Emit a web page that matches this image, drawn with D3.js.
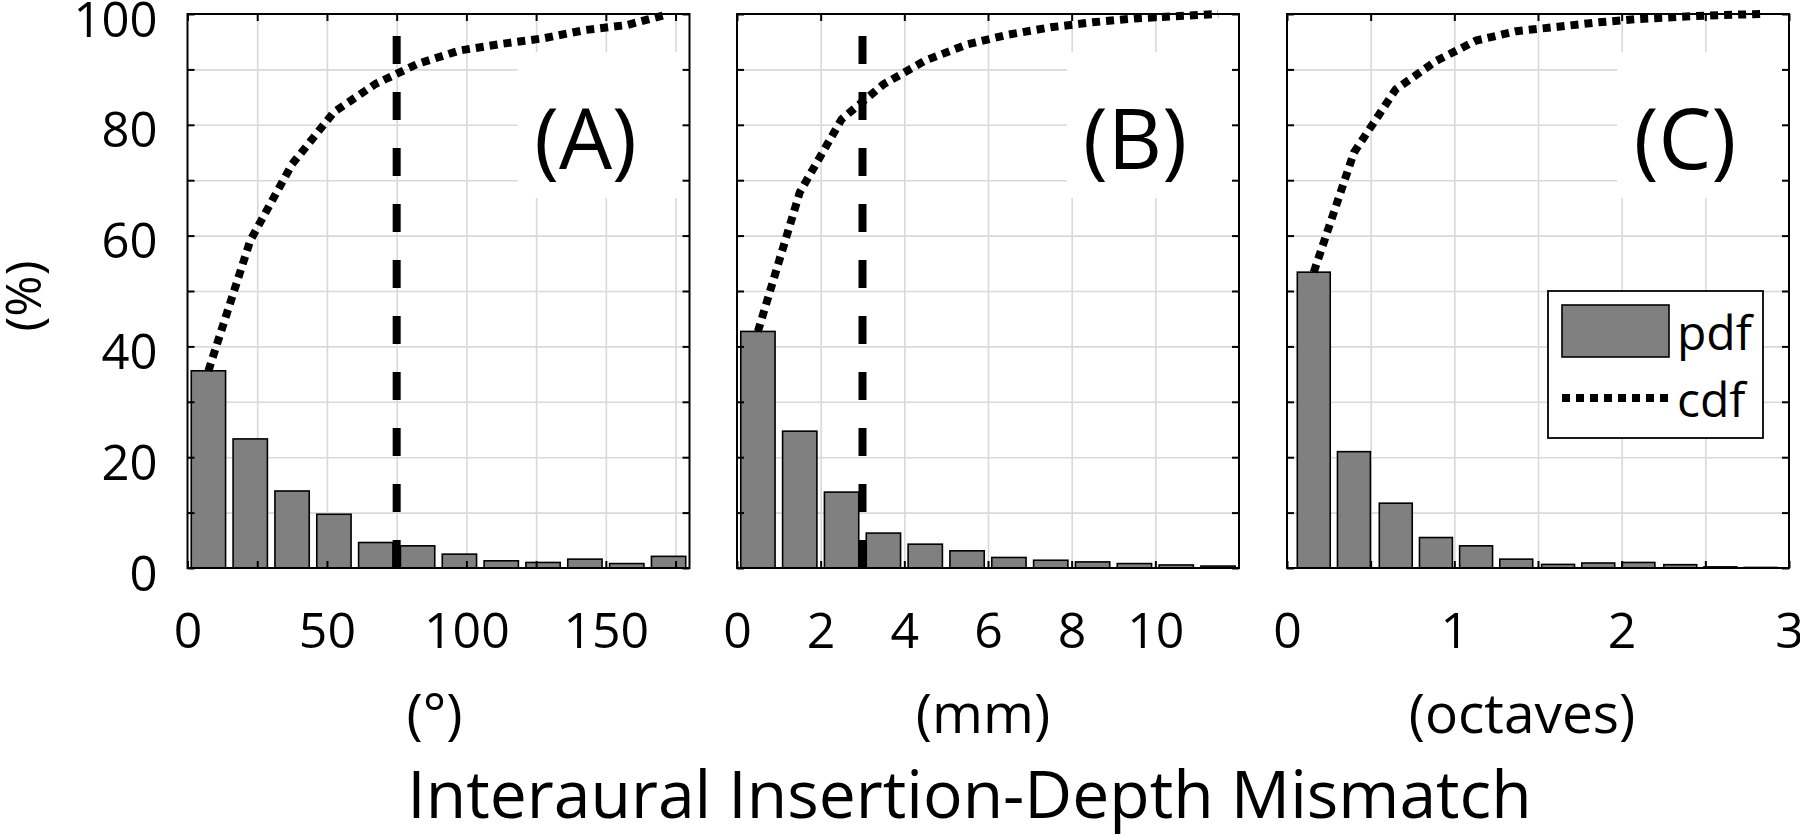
<!DOCTYPE html>
<html><head><meta charset="utf-8">
<script src="https://cdn.jsdelivr.net/npm/d3@7"></script>
<style>
body{margin:0;background:#fff;}
svg{display:block;font-family:"Open Sans",sans-serif;}
</style></head>
<body><svg id="chart" width="1800" height="835"></svg>
<script>
// ---- data ----
const yTicks = [0, 10, 20, 30, 40, 50, 60, 70, 80, 90, 100];
const yTickLabels = ["0", "", "20", "", "40", "", "60", "", "80", "", "100"];

const binCentersA = [7.5, 22.5, 37.5, 52.5, 67.5, 82.5, 97.5, 112.5, 127.5, 142.5, 157.5, 172.5];
const pdfA = [35.6, 23.3, 13.9, 9.7, 4.6, 4.0, 2.5, 1.3, 1.0, 1.6, 0.8, 2.1];
const cdfA = [35.6, 59.1, 72.9, 82.3, 87.4, 91.0, 93.4, 94.6, 95.6, 97.1, 98.0, 100];
const xDomainA = [0, 180];
const xTicksA = [0, 25, 50, 75, 100, 125, 150, 175];
const xTickLabelsA = ["0", "", "50", "", "100", "", "150", ""];
const markerA = 75;

const binCentersB = [0.5, 1.5, 2.5, 3.5, 4.5, 5.5, 6.5, 7.5, 8.5, 9.5, 10.5, 11.5];
const pdfB = [42.7, 24.7, 13.7, 6.3, 4.3, 3.1, 1.9, 1.4, 1.1, 0.8, 0.55, 0.35];
const cdfB = [42.7, 67.8, 81.0, 87.3, 91.6, 94.5, 96.3, 97.6, 98.5, 99.2, 99.6, 100];
const xDomainB = [0, 12];
const xTicksB = [0, 2, 4, 6, 8, 10];
const xTickLabelsB = ["0", "2", "4", "6", "8", "10"];
const markerB = 3;

const binCentersC = [0.16, 0.40, 0.65, 0.89, 1.13, 1.37, 1.62, 1.86, 2.10, 2.35, 2.59, 2.83];
const pdfC = [53.4, 21.0, 11.7, 5.5, 4.0, 1.6, 0.65, 0.9, 1.0, 0.6, 0.2, 0.1];
const cdfC = [53.4, 75.0, 86.4, 91.5, 95.2, 96.9, 97.7, 98.5, 99.1, 99.5, 99.8, 100];
const xDomainC = [0, 3];
const xTicksC = [0, 0.5, 1, 1.5, 2, 2.5, 3];
const xTickLabelsC = ["0", "", "1", "", "2", "", "3"];
const markerC = null;

const panelLabels = ["(A)", "(B)", "(C)"];
const unitLabels = ["(\u00B0)", "(mm)", "(octaves)"];
const yAxisLabel = "(%)";
const titleText = "Interaural Insertion-Depth Mismatch";
const legendLabels = ["pdf", "cdf"];

// ---- layout ----
const svg = d3.select("#chart");
const TOP = 14, H = 554, W = 502;
const lefts = [187.5, 737, 1287];
const unitShift = [-4, -5, -16];
const GRID = "#d9d9d9", BAR = "#808080";

const panels = [
  {centers: binCentersA, pdf: pdfA, cdf: cdfA, domain: xDomainA, ticks: xTicksA, labels: xTickLabelsA, marker: markerA},
  {centers: binCentersB, pdf: pdfB, cdf: cdfB, domain: xDomainB, ticks: xTicksB, labels: xTickLabelsB, marker: markerB},
  {centers: binCentersC, pdf: pdfC, cdf: cdfC, domain: xDomainC, ticks: xTicksC, labels: xTickLabelsC, marker: markerC}
];

panels.forEach((p, i) => {
  const g = svg.append("g").attr("transform", `translate(${lefts[i]},${TOP})`);
  const x = d3.scaleLinear().domain(p.domain).range([0, W]);
  const y = d3.scaleLinear().domain([0, 100]).range([H, 0]);

  // grid
  const gx = g.append("g").attr("transform", `translate(0,${H})`)
    .call(d3.axisBottom(x).tickValues(p.ticks.filter(t => t > p.domain[0] && t < p.domain[1])).tickSize(-H).tickFormat(""));
  gx.select(".domain").remove();
  gx.selectAll("line").attr("stroke", GRID).attr("stroke-width", 1.6);
  const gy = g.append("g")
    .call(d3.axisLeft(y).tickValues(yTicks.filter(t => t > 0 && t < 100)).tickSize(-W).tickFormat(""));
  gy.select(".domain").remove();
  gy.selectAll("line").attr("stroke", GRID).attr("stroke-width", 1.6);

  // white background of panel label
  g.append("rect").attr("x", W - 172).attr("y", 38).attr("width", 172).attr("height", 146).attr("fill", "#fff");

  // bars
  const bw = (x(p.centers[1]) - x(p.centers[0])) * 0.82;
  g.selectAll("rect.bar").data(p.pdf).join("rect").attr("class", "bar")
    .attr("x", (d, j) => x(p.centers[j]) - bw / 2)
    .attr("y", d => y(d))
    .attr("width", bw)
    .attr("height", d => y(0) - y(d))
    .attr("fill", BAR).attr("stroke", "#000").attr("stroke-width", 1.6);

  // axes box and inward ticks
  const fmtX = d => p.labels[p.ticks.indexOf(d)];
  const ab = g.append("g").attr("transform", `translate(0,${H})`)
    .call(d3.axisBottom(x).tickValues(p.ticks).tickSize(-7).tickFormat(fmtX));
  ab.select(".domain").remove();
  ab.selectAll("line").attr("stroke", "#000").attr("stroke-width", 2);
  ab.selectAll("text").attr("y", 80).attr("dy", 0).attr("fill", "#000")
    .style("font-size", "50px").style("font-family", '"Open Sans",sans-serif');
  const at = g.append("g").call(d3.axisTop(x).tickValues(p.ticks).tickSize(-7).tickFormat(""));
  at.select(".domain").remove();
  at.selectAll("line").attr("stroke", "#000").attr("stroke-width", 2);
  const al = g.append("g").call(d3.axisLeft(y).tickValues(yTicks).tickSize(-7)
    .tickFormat(i === 0 ? (d => yTickLabels[yTicks.indexOf(d)]) : ""));
  al.select(".domain").remove();
  al.selectAll("line").attr("stroke", "#000").attr("stroke-width", 2);
  al.selectAll("text").attr("x", -30).attr("dy", 22).attr("fill", "#000")
    .style("font-size", "49px").style("font-family", '"Open Sans",sans-serif');
  const ar = g.append("g").attr("transform", `translate(${W},0)`)
    .call(d3.axisRight(y).tickValues(yTicks).tickSize(-7).tickFormat(""));
  ar.select(".domain").remove();
  ar.selectAll("line").attr("stroke", "#000").attr("stroke-width", 2);
  g.append("rect").attr("x", 0).attr("y", 0).attr("width", W).attr("height", H)
    .attr("fill", "none").attr("stroke", "#000").attr("stroke-width", 2);

  // dashed marker
  if (p.marker !== null) {
    g.append("line").attr("x1", x(p.marker)).attr("x2", x(p.marker))
      .attr("y1", y(0)).attr("y2", y(100))
      .attr("stroke", "#000").attr("stroke-width", 8).attr("stroke-dasharray", "28,28");
  }

  // cdf
  const line = d3.line().x((d, j) => x(p.centers[j])).y(d => y(d));
  g.append("path").datum(p.cdf).attr("d", line).attr("fill", "none")
    .attr("stroke", "#000").attr("stroke-width", 8).attr("stroke-dasharray", "8,6");

  // panel label
  g.append("text").attr("x", W - 104).attr("y", 155).attr("text-anchor", "middle")
    .style("font-size", "84px").text(panelLabels[i]);
  // unit label
  g.append("text").attr("x", W / 2 + unitShift[i]).attr("y", 719).attr("text-anchor", "middle")
    .style("font-size", "55px").text(unitLabels[i]);
});

// y label
svg.append("text").attr("transform", "translate(41,296) rotate(-90)")
  .attr("text-anchor", "middle").style("font-size", "50px").text(yAxisLabel);

// title
svg.append("text").attr("x", 969.5).attr("y", 818).attr("text-anchor", "middle")
  .style("font-size", "66px").text(titleText);

// legend
const lg = svg.append("g");
lg.append("rect").attr("x", 1548).attr("y", 291).attr("width", 215).attr("height", 147)
  .attr("fill", "#fff").attr("stroke", "#000").attr("stroke-width", 1.8);
lg.append("rect").attr("x", 1562).attr("y", 305).attr("width", 107).attr("height", 52)
  .attr("fill", BAR).attr("stroke", "#000").attr("stroke-width", 1.6);
lg.append("line").attr("x1", 1562).attr("x2", 1669).attr("y1", 398).attr("y2", 398)
  .attr("stroke", "#000").attr("stroke-width", 8).attr("stroke-dasharray", "8,6");
lg.append("text").attr("x", 1677).attr("y", 350).style("font-size", "48px").text(legendLabels[0]);
lg.append("text").attr("x", 1677).attr("y", 417).style("font-size", "48px").text(legendLabels[1]);
</script>
</body></html>
